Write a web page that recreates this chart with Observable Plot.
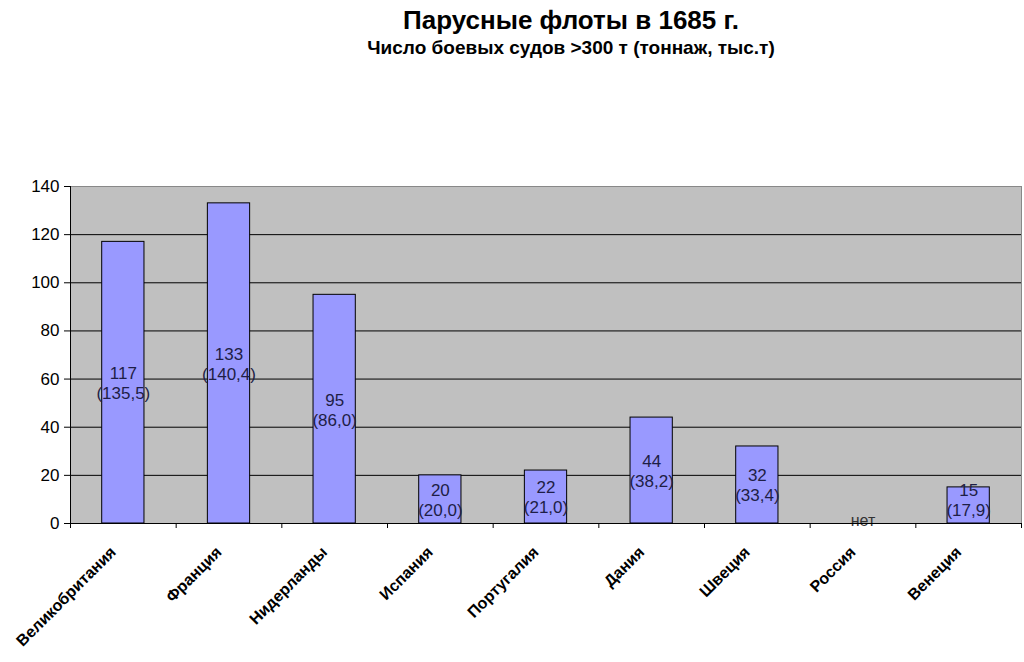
<!DOCTYPE html>
<html><head><meta charset="utf-8">
<script src="https://cdn.jsdelivr.net/npm/d3@7"></script>
<script src="https://cdn.jsdelivr.net/npm/@observablehq/plot@0.6"></script>
<style>
body{margin:0;background:#fff;font-family:"Liberation Sans",Arial,sans-serif;}
#head{height:62px;box-sizing:border-box;padding-left:118px;text-align:center;color:#000;}
#t{font-weight:bold;font-size:26px;padding-top:5px;line-height:30px;}
#s{font-weight:bold;font-size:19px;line-height:22px;margin-top:2px;}
g[aria-label="x-axis tick label"] text{font-weight:bold;}
</style></head><body>
<div id="head"><div id="t">Парусные флоты в 1685 г.</div><div id="s">Число боевых судов &gt;300 т (тоннаж, тыс.т)</div></div>
<div id="chart"></div>
<script>
const countries = ["Великобритания","Франция","Нидерланды","Испания","Португалия","Дания","Швеция","Россия","Венеция"];
const ships = [117, 133, 95, 20, 22, 44, 32, null, 15];
const tonnage = ["135,5","140,4","86,0","20,0","21,0","38,2","33,4", null, "17,9"];
const yTicks = [0, 20, 40, 60, 80, 100, 120, 140];
const noData = "нет";

const data = countries.map((c, i) => ({i, country: c, ships: ships[i], tonnage: tonnage[i]}));

const chart = Plot.plot({
  width: 1024, height: 600,
  marginTop: 124, marginBottom: 139, marginLeft: 70, marginRight: 3,
  style: {fontFamily: "Liberation Sans, Arial, sans-serif", background: "#fff", color: "#000"},
  x: {domain: [0, countries.length], axis: null},
  y: {domain: [0, 140], axis: null},
  marks: [
    Plot.frame({fill: "#c0c0c0", stroke: "#888"}),
    Plot.ruleY(yTicks.slice(1, -1), {stroke: "#000", strokeWidth: 1}),
    Plot.rectY(data.filter(d => d.ships != null), {x1: d => d.i + 0.3, x2: d => d.i + 0.7, y: "ships", fill: "#9999ff", stroke: "#000", strokeWidth: 1}),
    Plot.text(data.filter(d => d.ships != null), {x: d => d.i + 0.5, y: d => Math.max(d.ships / 2, 10),
      text: d => `${d.ships}\n(${d.tonnage})`,
      fontSize: 17, fill: "#1e1e46", lineHeight: 1.18}),
    Plot.text(data.filter(d => d.ships == null), {x: d => d.i + 0.5, y: 0, text: () => noData,
      fontSize: 16, fill: "#333", dy: -3}),
    Plot.axisY({ticks: yTicks, tickSize: 6, tickPadding: 5, fontSize: 17, label: null, stroke: "#000", fill: "#000"}),
    Plot.ruleX([0], {stroke: "#000"}),
    Plot.ruleY([0], {stroke: "#000"}),
    Plot.axisX({ticks: d3.range(countries.length + 1), tickFormat: () => "", tickSize: 5, label: null, stroke: "#000"}),
    Plot.axisX({ticks: countries.map((c, i) => i + 0.5), tickFormat: t => countries[Math.floor(t)], tickSize: 0, tickRotate: -45, tickPadding: 18, dx: -10, dy: 8, fontSize: 16, fontWeight: "bold", label: null, fill: "#000"})
  ]
});
document.getElementById("chart").appendChild(chart);
</script>
</body></html>
